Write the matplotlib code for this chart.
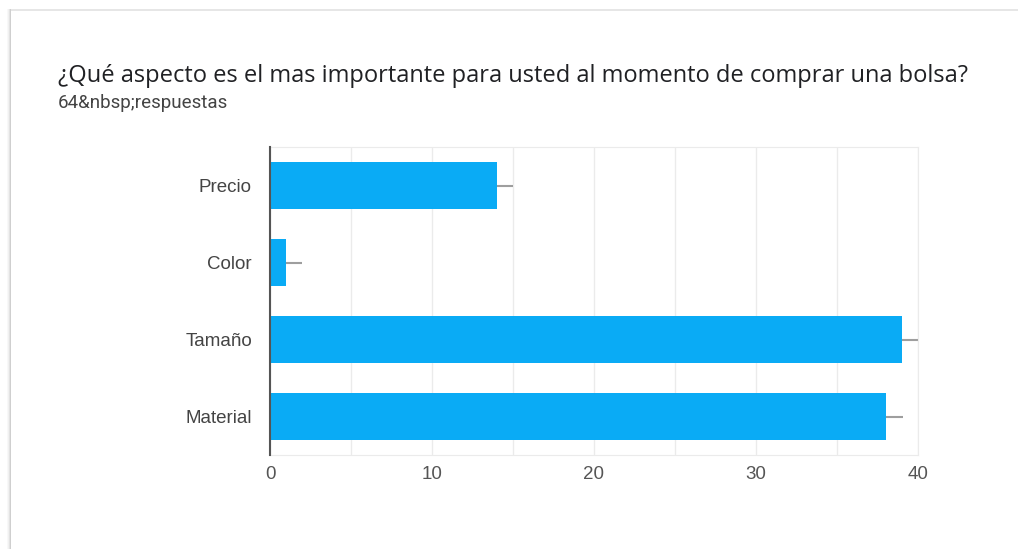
import matplotlib.pyplot as plt
from matplotlib.patches import Rectangle
import numpy as np

categories = ["Precio", "Color", "Tamaño", "Material"]
counts = [14, 1, 39, 38]
spread = [1, 1, 1, 1.1]
x_ticks = [0, 10, 20, 30, 40]

title = "¿Qué aspecto es el mas importante para usted al momento de comprar una bolsa?"
subtitle = "64&nbsp;respuestas"

plt.rcParams['font.family'] = ['Liberation Sans', 'DejaVu Sans']

W, H = 1018, 549
fig = plt.figure(figsize=(W / 100, H / 100), dpi=100)
fig.patch.set_facecolor("white")

# card outline with a soft shadow on the left
for i, a in enumerate([0.35, 0.2, 0.1, 0.05]):
    fig.patches.append(Rectangle(((10 - i) / W, 0), 1 / W, (H - 9) / H,
                                 transform=fig.transFigure, color="#777777",
                                 alpha=a, lw=0))
fig.patches.append(Rectangle((11 / W, (H - 11) / H), (W - 11) / W, 2 / H,
                             transform=fig.transFigure, color="#e6e6e6", lw=0))

fig.text(58 / W, 1 - 82 / H, title, fontsize=17, color="#202124",
         va="baseline", family=["Open Sans", "DejaVu Sans"])
fig.text(58 / W, 1 - 108 / H, subtitle, fontsize=13.5, color="#444444",
         va="baseline", family=["Roboto", "DejaVu Sans"])

ax = fig.add_axes([270 / W, 1 - 455 / H, 648 / W, 308 / H])
y = np.arange(len(categories))
ax.barh(y, counts, height=0.62, color="#0aabf5", zorder=3)
ax.errorbar(counts, y, xerr=[np.zeros(len(counts)), spread], fmt="none",
            ecolor="#9e9e9e", elinewidth=1.5, capsize=0, zorder=2)

ax.set_xlim(0, 40)
ax.set_ylim(len(categories) - 0.5, -0.5)
ax.set_yticks(y)
ax.set_yticklabels(categories)
ax.set_xticks(x_ticks)
ax.set_xticks(np.arange(0, 41, 5), minor=True)
ax.grid(True, axis="x", which="both", color="#ebebeb", lw=1, zorder=0)

for side in ["top", "right", "bottom"]:
    ax.spines[side].set_color("#ebebeb")
ax.spines["left"].set_color("#555555")
ax.spines["left"].set_linewidth(1.5)
ax.spines["left"].set_zorder(5)

ax.tick_params(axis="both", which="both", length=0, labelsize=13.5, colors="#444444")
ax.tick_params(axis="y", pad=13)
ax.tick_params(axis="x", pad=8, labelcolor="#555555")

fig.savefig("out.png", dpi=100)
